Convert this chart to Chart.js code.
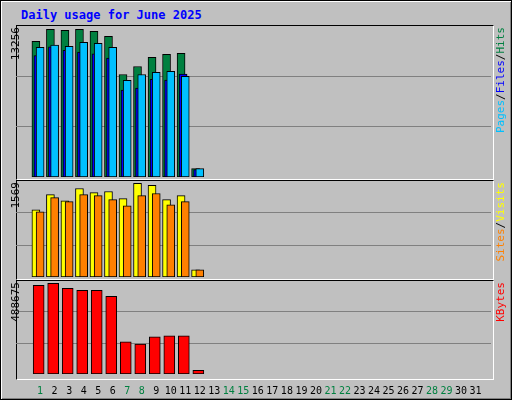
<!DOCTYPE html>
<html><head><meta charset="utf-8">
<script src="https://cdn.jsdelivr.net/npm/chart.js"></script>
<style>
body{margin:0;background:#fff}
#wrap{position:absolute;left:0;top:0;width:510px;height:398px;background:#c0c0c0;border:1px solid #000;box-shadow:inset 1px 1px 0 #fff,inset -1px -1px 0 #808080}
.panel{position:absolute;left:15px;width:476px;border-top:1px solid #000;border-left:1px solid #000;border-right:1px solid #fff;border-bottom:1px solid #fff}
canvas{position:absolute}
.vt{position:absolute;writing-mode:vertical-rl;transform:rotate(180deg);font:11px "DejaVu Sans Mono",monospace;white-space:nowrap}
#title{position:absolute;left:20px;top:7px;font:bold 12px "DejaVu Sans Mono",monospace;color:#0000ff}
</style></head><body>
<div id="wrap">
<div id="title">Daily usage for June 2025</div>
<div class="panel" style="top:24px;height:153px"></div>
<div class="panel" style="top:179px;height:98px"></div>
<div class="panel" style="top:279px;height:98px"></div>
</div>
<canvas id="c1" width="512" height="152" style="left:0;top:25px"></canvas>
<canvas id="c2" width="512" height="97" style="left:0;top:180px"></canvas>
<canvas id="c3" width="512" height="120" style="left:0;top:280px"></canvas>
<div class="vt" style="left:9px;top:27px">13256</div>
<div class="vt" style="left:9px;top:182px">1569</div>
<div class="vt" style="left:9px;top:282px">488675</div>
<div class="vt" style="left:494px;top:27px"><span style="color:#00c0ff">Pages</span><span style="color:#000">/</span><span style="color:#0000ff">Files</span><span style="color:#000">/</span><span style="color:#008040">Hits</span></div>
<div class="vt" style="left:494px;top:182px"><span style="color:#ff8000">Sites</span><span style="color:#000">/</span><span style="color:#ffff00">Visits</span></div>
<div class="vt" style="left:494px;top:282px"><span style="color:#ff0000">KBytes</span></div>
<script>
const days = Array.from({length:31},(_,i)=>i+1);
const weekendDays = [1,7,8,14,15,21,22,28,29];
const hits   = [11830,12880,12790,12880,12700,12260,8940,9640,10430,10690,10780,730];
const pages  = [10580,11360,11040,10900,10750,10370,7570,7750,8510,8450,8970,640];
const files  = [11300,11510,11390,11740,11650,11300,8420,8940,9120,9210,8770,730];
const visits = [1086,1333,1234,1432,1366,1383,1267,1514,1481,1251,1317,115];
const sites  = [1053,1284,1218,1333,1317,1251,1152,1317,1350,1169,1218,115];
const kbytes = [461000,471500,445600,435000,435000,404000,167000,156000,192600,198000,198000,19000];
const maxTop = 13256, maxMid = 1569, maxBot = 488675;

const XMIN = 1-17/15, XMAX = XMIN+475/15;
function pts(arr, off){ return arr.map((v,i)=>({x:days[i]+off,y:v})); }
function ds(arr, off, color, w, order){
  return {data:pts(arr,off),backgroundColor:color,borderColor:'#000',borderWidth:1,barThickness:w,grouped:false,order:order,borderSkipped:false};
}
const gridPlugin = {id:'thirds',beforeDatasetsDraw(ch){
  const y=ch.scales.y, a=ch.chartArea, ctx=ch.ctx;
  ctx.save(); ctx.strokeStyle='#808080'; ctx.lineWidth=1;
  [1/3,2/3].forEach(f=>{const p=Math.round(y.getPixelForValue(y.max*f))+0.5;
    ctx.beginPath();ctx.moveTo(a.left,p);ctx.lineTo(a.right,p);ctx.stroke();});
  ctx.restore();}};
function mk(id, datasets, max, showX){
  new Chart(document.getElementById(id),{
    type:'bar',
    data:{datasets},
    plugins:[gridPlugin],
    options:{responsive:false,animation:false,
      layout:{padding:{left:16,right:21,top:0,bottom:0}},
      plugins:{legend:{display:false},tooltip:{enabled:false}},
      scales:{
        x:{type:'linear',min:XMIN,max:XMAX,display:showX,
           grid:{display:false},border:{display:false},
           afterBuildTicks:a=>{a.ticks=days.map(d=>({value:d}));},
           ticks:{autoSkip:false,maxRotation:0,minRotation:0,padding:3,font:{family:'DejaVu Sans Mono',size:10},
             color:c=>weekendDays.includes(c.tick.value)?'#008040':'#000',
             callback:v=>String(v)}},
        y:{min:0,max:max,display:false}
      }}
  });
}
mk('c1',[ds(files,0.0,'#00c0ff',8,0),ds(pages,-0.15,'#0000ff',8,1),ds(hits,-0.29,'#008040',8,2)],maxTop,false);
mk('c2',[ds(sites,0.0,'#ff8000',8,0),ds(visits,-0.29,'#ffff00',8,1)],maxMid,false);
mk('c3',[ds(kbytes,-0.1,'#ff0000',11,0)],maxBot,true);
</script>
</body></html>
